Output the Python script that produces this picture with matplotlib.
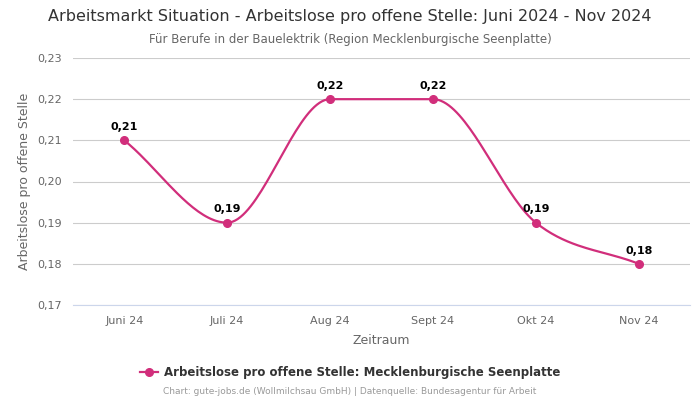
import numpy as np
import matplotlib.pyplot as plt

months = ['Juni 24', 'Juli 24', 'Aug 24', 'Sept 24', 'Okt 24', 'Nov 24']
values = [0.21, 0.19, 0.22, 0.22, 0.19, 0.18]
labels = ['0,21', '0,19', '0,22', '0,22', '0,19', '0,18']
yticks = [0.17, 0.18, 0.19, 0.20, 0.21, 0.22, 0.23]

color = '#d12e7b'


def monotone_curve(x, y, n=40):
    # Fritsch-Carlson monotone cubic, like chart.js "monotone"
    x = np.asarray(x, float)
    y = np.asarray(y, float)
    h = np.diff(x)
    d = np.diff(y) / h
    m = np.zeros_like(y)
    m[0], m[-1] = d[0], d[-1]
    for i in range(1, len(y) - 1):
        if d[i - 1] * d[i] <= 0:
            m[i] = 0
        else:
            m[i] = (d[i - 1] + d[i]) / 2
    for i in range(len(d)):
        if d[i] == 0:
            m[i] = m[i + 1] = 0
        else:
            a, b = m[i] / d[i], m[i + 1] / d[i]
            s = a * a + b * b
            if s > 9:
                t = 3 / np.sqrt(s)
                m[i] = t * a * d[i]
                m[i + 1] = t * b * d[i]
    xs, ys = [], []
    for i in range(len(d)):
        t = np.linspace(0, 1, n)
        h00 = 2 * t**3 - 3 * t**2 + 1
        h10 = t**3 - 2 * t**2 + t
        h01 = -2 * t**3 + 3 * t**2
        h11 = t**3 - t**2
        xs.append(x[i] + t * h[i])
        ys.append(h00 * y[i] + h10 * h[i] * m[i] + h01 * y[i + 1] + h11 * h[i] * m[i + 1])
    return np.concatenate(xs), np.concatenate(ys)


fig = plt.figure(figsize=(7, 4), dpi=100)
ax = fig.add_axes([0.104, 0.2375, 0.882, 0.6175])

xpos = np.arange(len(months))
cx, cy = monotone_curve(xpos, values)
ax.plot(cx, cy, color=color, lw=1.6, zorder=3)
ax.plot(xpos, values, 'o', color=color, ms=5.5, zorder=4,
        label='Arbeitslose pro offene Stelle: Mecklenburgische Seenplatte')

for xi, v, s in zip(xpos, values, labels):
    ax.annotate(s, (xi, v), xytext=(0, 6), textcoords='offset points',
                ha='center', va='bottom', fontsize=8, fontweight='bold', color='black')

ax.set_xlim(-0.5, 5.5)
ax.set_ylim(0.17, 0.23)
ax.set_yticks(yticks)
ax.set_yticklabels([f'{t:.2f}'.replace('.', ',') for t in yticks])
ax.set_xticks(xpos)
ax.set_xticklabels(months)
ax.tick_params(axis='both', length=0, labelsize=8, colors='#666666', pad=8)
ax.grid(axis='y', color='#cccccc', lw=0.8)
ax.set_axisbelow(True)
for sp in ['top', 'right', 'left']:
    ax.spines[sp].set_visible(False)
ax.spines['bottom'].set_color('#ccd6eb')

ax.set_xlabel('Zeitraum', fontsize=9, color='#666666', labelpad=6)
ax.set_ylabel('Arbeitslose pro offene Stelle', fontsize=9, color='#666666')

fig.text(0.5, 0.958, 'Arbeitsmarkt Situation - Arbeitslose pro offene Stelle: Juni 2024 - Nov 2024',
         ha='center', va='center', fontsize=11.5, color='#333333')
fig.text(0.5, 0.902, 'Für Berufe in der Bauelektrik (Region Mecklenburgische Seenplatte)',
         ha='center', va='center', fontsize=8.5, color='#666666')

fig.legend(loc='center', bbox_to_anchor=(0.5, 0.068), frameon=False,
           prop={'size': 8.5, 'weight': 'bold'}, labelcolor='#333333',
           handlelength=1.5, handletextpad=0.5,
           handler_map=None)
leg_line = fig.legends[0].legend_handles[0]
leg_line.set_linestyle('-')
leg_line.set_linewidth(1.6)

fig.text(0.5, 0.02, 'Chart: gute-jobs.de (Wollmilchsau GmbH) | Datenquelle: Bundesagentur für Arbeit',
         ha='center', va='center', fontsize=6.5, color='#999999')

fig.savefig('out.png', dpi=100)
